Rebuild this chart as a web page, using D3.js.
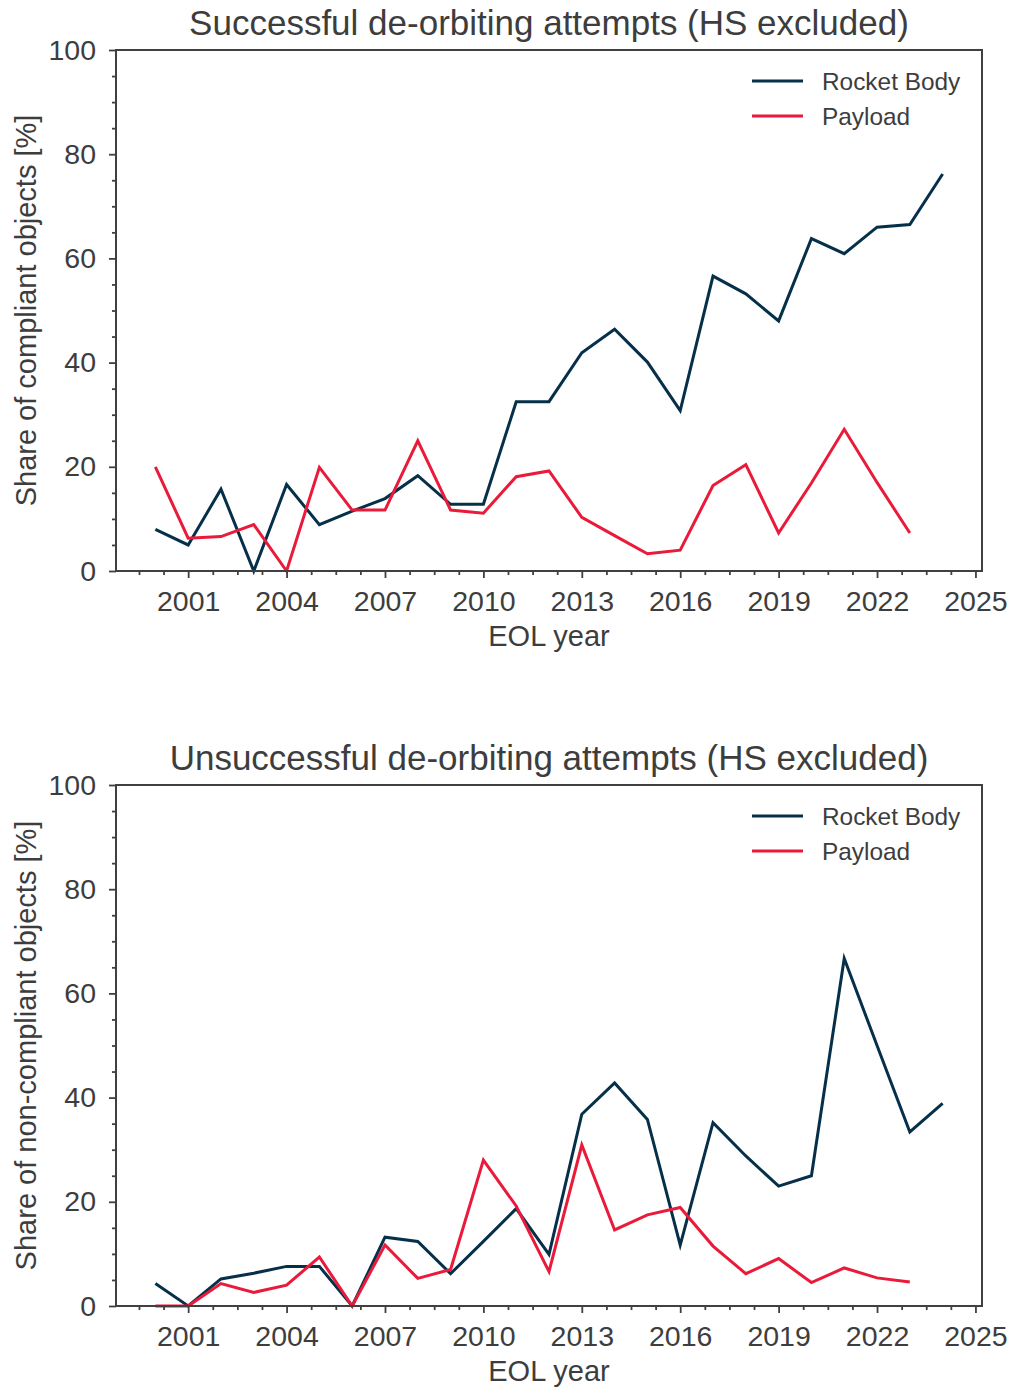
<!DOCTYPE html>
<html>
<head>
<meta charset="utf-8">
<script src="https://cdn.jsdelivr.net/npm/d3@7"></script>
<style>
  html, body { margin: 0; padding: 0; background: #fff; }
  svg text { font-family: "Liberation Sans", Arial, sans-serif; fill: #3d3d3d; }
</style>
</head>
<body>
<svg id="chart" width="1015" height="1389"></svg>
<script>
// ---- Data ----
const years = [2000,2001,2002,2003,2004,2005,2006,2007,2008,2009,2010,2011,2012,
               2013,2014,2015,2016,2017,2018,2019,2020,2021,2022,2023,2024];

// Successful de-orbiting attempts (share of compliant objects, %)
const successRocketBody = [8.0,5.0,15.7,0.0,16.6,8.9,11.5,13.9,18.3,12.8,12.8,32.5,32.5,
                           41.9,46.4,40.1,30.8,56.6,53.2,48.0,63.8,60.9,66.0,66.5,76.2];
const successPayload    = [20.0,6.3,6.6,8.9,0.0,19.9,11.7,11.7,25.0,11.7,11.1,18.1,19.2,
                           10.3,6.8,3.3,4.0,16.4,20.4,7.3,16.9,27.2,17.0,7.3,null];

// Unsuccessful de-orbiting attempts (share of non-compliant objects, %)
const failRocketBody = [4.3,0.0,5.2,6.3,7.6,7.6,0.0,13.2,12.4,6.2,12.4,18.7,9.9,
                        36.8,42.8,35.8,11.7,35.2,28.8,23.0,25.0,66.7,50.0,33.4,38.9];
const failPayload    = [0.0,0.0,4.3,2.6,4.0,9.4,0.0,11.7,5.3,7.0,28.0,19.2,6.6,
                        30.9,14.6,17.5,18.9,11.5,6.2,9.1,4.5,7.3,5.4,4.6,null];

const xTickLabels = [2001,2004,2007,2010,2013,2016,2019,2022,2025];
const yTickLabels = [0,20,40,60,80,100];
const seriesNames = ["Rocket Body","Payload"];
const seriesColors = ["#06304a","#ea1a3a"];

const panels = [
  { title: "Successful de-orbiting attempts (HS excluded)",
    ylabel: "Share of compliant objects [%]",
    series: [successRocketBody, successPayload], top: 50 },
  { title: "Unsuccessful de-orbiting attempts (HS excluded)",
    ylabel: "Share of non-compliant objects [%]",
    series: [failRocketBody, failPayload], top: 785 }
];

// ---- Layout ----
const svg = d3.select("#chart");
const left = 116, right = 982, plotH = 521;
const axisColor = "#404040";
const fontFam = '"Liberation Sans", Arial, sans-serif';

const x = d3.scaleLinear().domain([1998.8, 2025.2]).range([left, right]);

const xMinor = d3.range(1999.5, 2025.21, 0.75).filter(v => !xTickLabels.some(t => Math.abs(t - v) < 1e-6));
const yMinor = d3.range(0, 101, 5).filter(v => v % 20 !== 0);

panels.forEach(p => {
  const y = d3.scaleLinear().domain([0, 100]).range([p.top + plotH, p.top]);
  const g = svg.append("g");

  // lines
  const line = d3.line()
    .defined(d => d[1] !== null)
    .x(d => x(d[0])).y(d => y(d[1]));
  p.series.forEach((s, i) => {
    g.append("path")
      .datum(years.map((yr, k) => [yr, s[k]]))
      .attr("fill", "none")
      .attr("stroke", seriesColors[i])
      .attr("stroke-width", 3)
      .attr("stroke-linejoin", "miter")
      .attr("d", line);
  });

  // x axis major
  const gx = g.append("g").attr("transform", `translate(0,${p.top + plotH})`)
    .call(d3.axisBottom(x).tickValues(xTickLabels).tickSize(7).tickPadding(13).tickFormat(d3.format("d")));
  const gxm = g.append("g").attr("transform", `translate(0,${p.top + plotH})`)
    .call(d3.axisBottom(x).tickValues(xMinor).tickSize(4).tickFormat(""));
  // y axis
  const gy = g.append("g").attr("transform", `translate(${left},0)`)
    .call(d3.axisLeft(y).tickValues(yTickLabels).tickSize(7).tickPadding(13));
  const gym = g.append("g").attr("transform", `translate(${left},0)`)
    .call(d3.axisLeft(y).tickValues(yMinor).tickSize(4).tickFormat(""));

  [gx, gxm, gy, gym].forEach(a => {
    a.select(".domain").remove();
    a.selectAll(".tick line").attr("stroke", axisColor).attr("stroke-width", 1.8);
    a.selectAll(".tick text").attr("font-size", 28.5).attr("fill", "#3d3d3d")
      .style("font-family", fontFam);
  });

  // spines
  g.append("rect")
    .attr("x", left).attr("y", p.top)
    .attr("width", right - left).attr("height", plotH)
    .attr("fill", "none").attr("stroke", axisColor).attr("stroke-width", 2);

  // title
  g.append("text")
    .attr("x", (left + right) / 2).attr("y", p.top - 15)
    .attr("text-anchor", "middle").attr("font-size", 35)
    .text(p.title);

  // x label
  g.append("text")
    .attr("x", (left + right) / 2).attr("y", p.top + plotH + 75)
    .attr("text-anchor", "middle").attr("font-size", 29)
    .text("EOL year");

  // y label
  g.append("text")
    .attr("transform", `translate(36,${p.top + plotH / 2}) rotate(-90)`)
    .attr("text-anchor", "middle").attr("font-size", 29)
    .text(p.ylabel);

  // legend
  const lg = g.append("g").attr("transform", `translate(752,${p.top + 31})`);
  seriesNames.forEach((n, i) => {
    lg.append("line").attr("x1", 0).attr("x2", 51)
      .attr("y1", i * 35).attr("y2", i * 35)
      .attr("stroke", seriesColors[i]).attr("stroke-width", 3);
    lg.append("text").attr("x", 70).attr("y", i * 35 + 9)
      .attr("font-size", 24.4).text(n);
  });
});
</script>
</body>
</html>
